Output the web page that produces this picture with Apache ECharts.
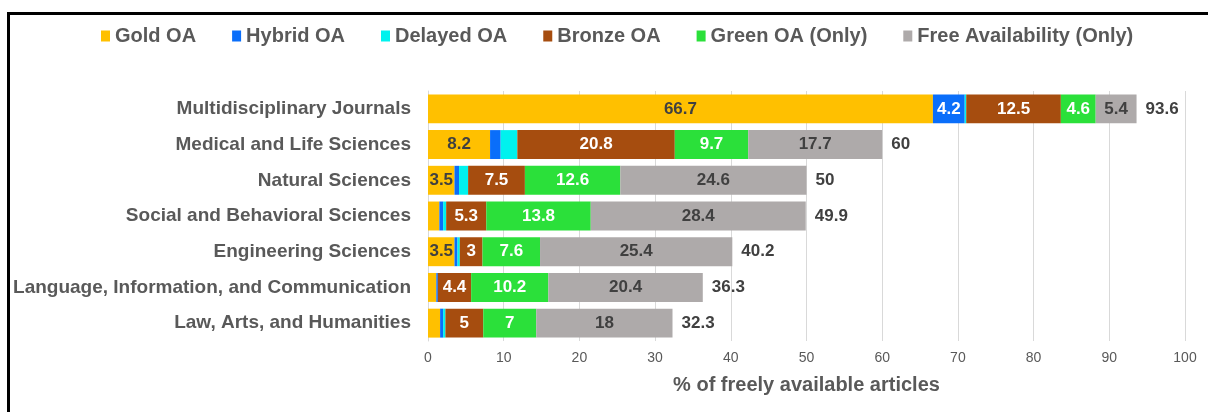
<!DOCTYPE html>
<html>
<head>
<meta charset="utf-8">
<title>OA shares by discipline</title>
<script src="https://cdn.jsdelivr.net/npm/echarts@6/dist/echarts.min.js"></script>
<style>
	html, body { margin:0; padding:0; background:#fff; overflow:hidden; }
	#wrap { position:relative; width:1208px; height:412px; overflow:hidden; }
	#chart { position:absolute; left:0; top:0; width:1208px; height:412px; }
	/* frame of the pasted excel picture, only left and top edges show */
	.edge { position:absolute; background:#000; pointer-events:none; }
	#edgeTop { left:7px; top:12px; width:1201px; height:3px; }
	#edgeLeft { left:7px; top:12px; width:3px; height:400px; }
</style>
</head>
<body>
<div id="wrap">
	<div id="chart"></div>
	<div class="edge" id="edgeTop"></div>
	<div class="edge" id="edgeLeft"></div>
</div>
<script>
(function(_global){

	var categories = [
		"Multidisciplinary Journals",
		"Medical and Life Sciences",
		"Natural Sciences",
		"Social and Behavioral Sciences",
		"Engineering Sciences",
		"Language, Information, and Communication",
		"Law, Arts, and Humanities"
	];

	var seriesNames = ["Gold OA","Hybrid OA","Delayed OA","Bronze OA","Green OA (Only)","Free Availability (Only)"];

	var goldOA    = [66.7, 8.2, 3.5, 1.5, 3.5, 1.1, 1.6];
	var hybridOA  = [4.2, 1.4, 0.6, 0.5, 0.4, 0.2, 0.4];
	var delayedOA = [0.2, 2.2, 1.2, 0.4, 0.3, 0, 0.3];
	var bronzeOA  = [12.5, 20.8, 7.5, 5.3, 3, 4.4, 5];
	var greenOA   = [4.6, 9.7, 12.6, 13.8, 7.6, 10.2, 7];
	var freeOnly  = [5.4, 17.7, 24.6, 28.4, 25.4, 20.4, 18];
	var totals    = [93.6, 60, 50, 49.9, 40.2, 36.3, 32.3];

	var xTicks = [0, 10, 20, 30, 40, 50, 60, 70, 80, 90, 100];

	var FONT = "'Liberation Sans', Arial, sans-serif";
	var DARK = "#404040";
	var GREY_TEXT = "#595959";

	var colors = ["#FFC000","#0A6EFA","#00F2EE","#A64D0F","#2BE03A","#AEAAAA"];
	var labelColors = [DARK,"#fff","#fff","#fff","#fff",DARK];
	var values = [goldOA, hybridOA, delayedOA, bronzeOA, greenOA, freeOnly];

	// excel only printed the labels that fit into the segment
	var MIN_LABEL = 3;

	var makeSeries = function(index){
		return {
			name: seriesNames[index],
			type: "bar",
			stack: "oa",
			barCategoryGap: "19%",
			itemStyle: {color: colors[index]},
			label: {
				show: true,
				position: "inside",
				color: labelColors[index],
				fontFamily: FONT,
				fontSize: 17,
				fontWeight: "bold",
				formatter: function(p){
					if (p.value < MIN_LABEL) return "";
					return p.value;
				}
			},
			emphasis: {disabled: true},
			data: values[index]
		}
	}

	var series = [];
	for (var i = 0; i < values.length; i++){
		series.push(makeSeries(i));
	}

	// empty segment at the end of each stack, carries the total label
	series.push({
		name: "total",
		type: "bar",
		stack: "oa",
		itemStyle: {color: "transparent"},
		label: {
			show: true,
			position: "right",
			distance: 9,
			color: DARK,
			fontFamily: FONT,
			fontSize: 17,
			fontWeight: "bold",
			formatter: function(p){ return totals[p.dataIndex]; }
		},
		emphasis: {disabled: true},
		data: categories.map(function(){ return 0; })
	});

	var option = {
		animation: false,
		textStyle: {fontFamily: FONT},
		legend: {
			data: seriesNames,
			top: 21,
			left: 96,
			itemWidth: 9,
			itemHeight: 11,
			itemGap: 36,
			icon: "rect",
			textStyle: {color: GREY_TEXT, fontSize: 20, fontWeight: "bold", fontFamily: FONT}
		},
		grid: {left: 428, right: 23, top: 91, bottom: 71},
		xAxis: {
			type: "value",
			min: xTicks[0],
			max: xTicks[xTicks.length - 1],
			interval: xTicks[1] - xTicks[0],
			axisLine: {show: false},
			axisTick: {show: false},
			splitLine: {lineStyle: {color: "#D9D9D9", width: 1}},
			axisLabel: {color: GREY_TEXT, fontSize: 14, margin: 10, fontFamily: FONT},
			name: "% of freely available articles",
			nameLocation: "middle",
			nameGap: 34,
			nameTextStyle: {color: GREY_TEXT, fontSize: 20, fontWeight: "bold", fontFamily: FONT, verticalAlign: "top"}
		},
		yAxis: {
			type: "category",
			inverse: true,
			data: categories,
			axisLine: {show: true, lineStyle: {color: "#D9D9D9", width: 1}},
			axisTick: {show: false},
			axisLabel: {color: GREY_TEXT, fontSize: 19, fontWeight: "bold", margin: 17, fontFamily: FONT}
		},
		series: series
	};

	var chart = echarts.init(document.getElementById("chart"), null, {renderer: "canvas"});
	chart.setOption(option);

})(window)
</script>
</body>
</html>
